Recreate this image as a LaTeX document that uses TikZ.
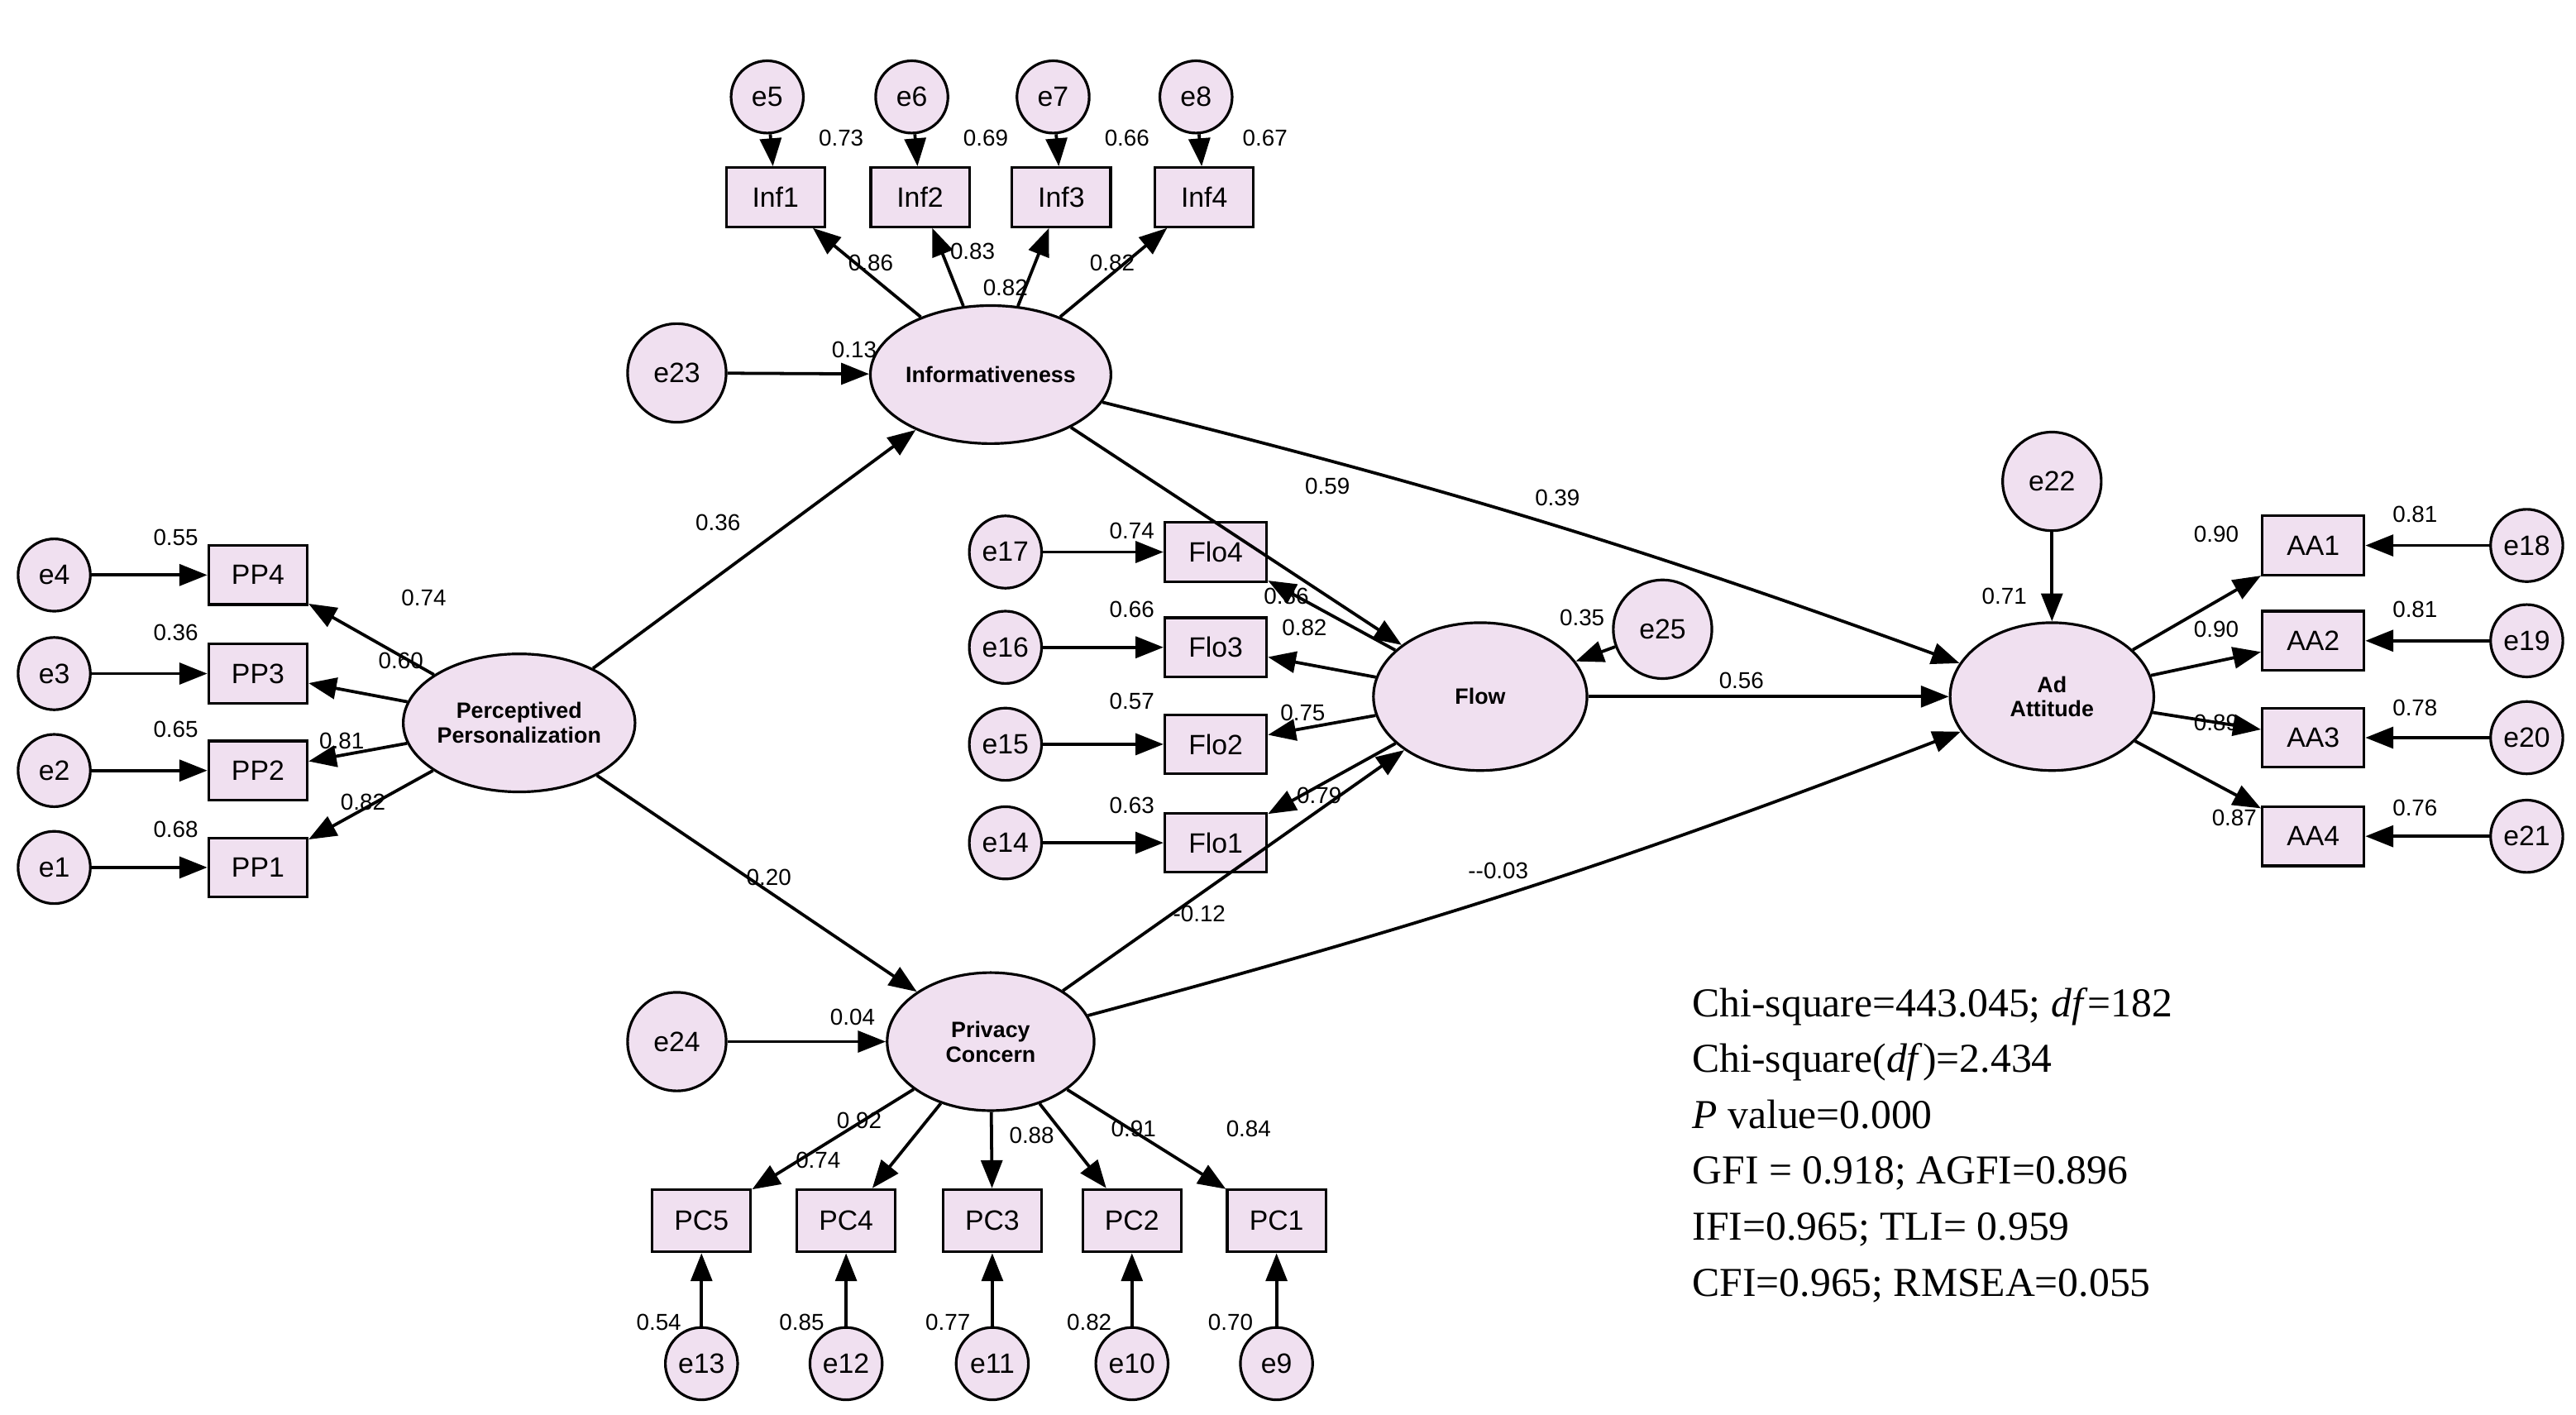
\documentclass[tikz,border=0pt]{standalone}
\usepackage{fontspec}
\setmainfont{Liberation Sans}
\newfontfamily\tnr{Liberation Serif}
\usetikzlibrary{arrows.meta,shapes.geometric}
\begin{document}
\begin{tikzpicture}[x=1pt,y=-1pt,
 base/.style={draw=black,line width=1.6pt,fill=violet!12},
 err/.style={base,circle,minimum size=44pt,inner sep=0pt,font=\fontsize{17}{17}\selectfont},
 berr/.style={err,minimum size=60pt},
 obs/.style={base,rectangle,minimum width=60pt,minimum height=36pt,inner sep=0pt,font=\fontsize{17}{17}\selectfont},
 lat/.style={base,ellipse,minimum width=126pt,minimum height=84pt,inner sep=0pt,align=center,font=\bfseries\fontsize{13.5}{15}\selectfont},
 ar/.style={line width=1.9pt,-{Triangle[length=17pt,width=13pt]}},
 lb/.style={font=\fontsize{14}{14}\selectfont,inner sep=0pt}]
\useasboundingbox (0,0) rectangle (1568,861);
% latents
\node[lat] (inf) at (603,228) {Informativeness};
\node[lat] (pp) at (316,440) {Perceptived\\Personalization};
\node[lat,minimum width=130pt,minimum height=90pt] (flow) at (901,424) {Flow};
\node[lat,minimum width=124pt,minimum height=90pt] (ad) at (1249,424) {Ad\\Attitude};
\node[lat] (pc) at (603,634) {Privacy\\Concern};
% informativeness block
\foreach \i/\x/\e in {1/472/5,2/560/6,3/646/7,4/733/8}{
 \node[obs] (inf\i) at (\x,120) {Inf\i};
 \node[err] (e\e) at (\x-5,59) {e\e};
 \draw[ar] (e\e) -- (inf\i);
 \draw[ar] (inf) -- (inf\i);}
\node[berr] (e23) at (412,227) {e23};
\draw[ar] (e23) -- (inf);
% PP block
\foreach \i/\y/\e in {4/350/4,3/410/3,2/469/2,1/528/1}{
 \node[obs] (pp\i) at (157,\y) {PP\i};
 \node[err] (e\e) at (33,\y) {e\e};
 \draw[ar] (e\e) -- (pp\i);
 \draw[ar] (pp) -- (pp\i);}
% Flow block
\foreach \i/\y/\e in {4/336/17,3/394/16,2/453/15,1/513/14}{
 \node[obs,minimum width=62pt] (flo\i) at (740,\y) {Flo\i};
 \node[err] (e\e) at (612,\y) {e\e};
 \draw[ar] (e\e) -- (flo\i);
 \draw[ar] (flow) -- (flo\i);}
\node[berr] (e25) at (1012,383) {e25};
\draw[ar] (e25) -- (flow);
% AA block
\foreach \i/\y/\e in {1/332/18,2/390/19,3/449/20,4/509/21}{
 \node[obs,minimum width=62pt] (aa\i) at (1408,\y) {AA\i};
 \node[err] (e\e) at (1538,\y) {e\e};
 \draw[ar] (e\e) -- (aa\i);
 \draw[ar] (ad) -- (aa\i);}
\node[berr] (e22) at (1249,293) {e22};
\draw[ar] (e22) -- (ad);
% PC block
\foreach \i/\x/\e in {5/427/13,4/515/12,3/604/11,2/689/10,1/777/9}{
 \node[obs,minimum height=38pt] (pc\i) at (\x,743) {PC\i};
 \node[err] (e\e) at (\x,830) {e\e};
 \draw[ar] (e\e) -- (pc\i);
 \draw[ar] (pc) -- (pc\i);}
\node[berr] (e24) at (412,634) {e24};
\draw[ar] (e24) -- (pc);
% structural
\draw[ar] (pp) -- (inf);
\draw[ar] (pp) -- (pc);
\draw[ar] (inf) -- (flow);
\draw[ar] (inf) to[bend left=3] (ad);
\draw[ar] (pc) -- (flow);
\draw[ar] (pc) to[bend right=3] (ad);
\draw[ar] (flow) -- (ad);
% labels
\foreach \t/\x/\y in {0.73/512/84,0.69/600/84,0.66/686/84,0.67/770/84,
 0.86/530/160,0.83/592/153,0.82/612/175,0.82/677/160,0.13/520/213,
 0.36/437/318,0.20/468/534,
 0.55/107/327,0.36/107/385,0.65/107/444,0.68/107/505,
 0.74/258/364,0.60/244/402,0.81/208/451,0.82/221/488,
 0.59/808/296,0.39/948/303,
 0.74/689/323,0.66/689/371,0.57/689/427,0.63/689/490,
 0.86/783/363,0.82/794/382,0.75/793/434,0.79/803/484,
 0.35/963/376,0.56/1060/414,0.71/1220/363,
 0.90/1349/325,0.90/1349/383,0.89/1349/440,0.87/1360/498,
 0.81/1470/313,0.81/1470/371,0.78/1470/431,0.76/1470/492,
 -0.12/730/556,0.04/519/619,
 0.92/523/682,0.74/498/706,0.88/628/691,0.91/690/687,0.84/760/687,
 0.54/401/805,0.85/488/805,0.77/577/805,0.82/663/805,0.70/749/805}
 \node[lb] at (\x,\y) {\t};
\node[lb] (lm03) at (912,530) {-\kern0pt-0.03};
% fit statistics
\node[anchor=north west,align=left,inner sep=0pt,font=\tnr\fontsize{25}{34}\selectfont] (fit) at (1030,601)
 {Chi-square=443.045; \textit{df}=182\\
  Chi-square(\textit{df})=2.434\\
  \textit{P} value=0.000\\
  GFI = 0.918; AGFI=0.896\\
  IFI=0.965; TLI= 0.959\\
  CFI=0.965; RMSEA=0.055};
\end{tikzpicture}
\end{document}
